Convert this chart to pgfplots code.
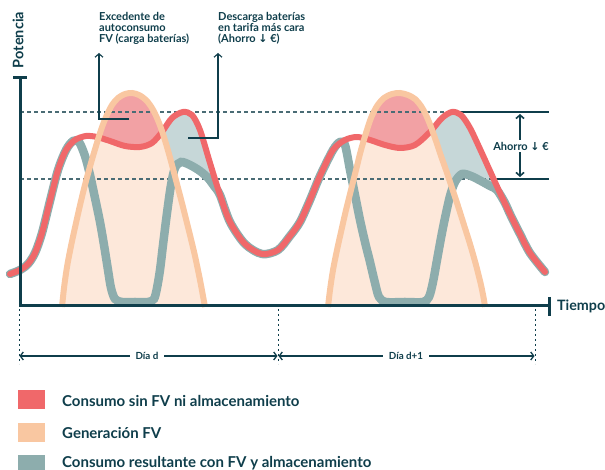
\documentclass[border=0pt]{standalone}
\usepackage{pgfplots}
\pgfplotsset{compat=1.18}
\usepgfplotslibrary{fillbetween}
\usetikzlibrary{arrows.meta}
\usepackage{fontspec}
\setmainfont{Lato}
\newfontfamily\symfont{DejaVu Sans}
\definecolor{redc}{RGB}{240,104,106}
\definecolor{orangec}{RGB}{249,199,161}
\definecolor{grayc}{RGB}{141,173,173}
\definecolor{pinkfill}{RGB}{242,161,164}
\definecolor{peachfill}{RGB}{253,232,218}
\definecolor{bluefill}{RGB}{198,215,216}
\definecolor{dark}{RGB}{15,62,75}
\definecolor{dashc}{RGB}{74,108,117}
\begin{document}
\begin{tikzpicture}
\begin{axis}[hide axis, scale only axis, width=605pt, height=470pt,
  xmin=0, xmax=605, ymin=0, ymax=470, y dir=reverse, clip=false,
  at={(0,0)}, anchor=south west]
% ---- named paths (data) ----
\addplot[draw=none, name path=AX] coordinates {(0,306) (605,306)};
\addplot[draw=none, smooth, name path=R] coordinates {
(10,274) (20,270) (28,264) (35,253) (42,233) (50,201) (58,170) (66,150) (75,140) (86,136) (97,137) (110,141) (125,146) (140,147) (152,143) (162,132) (172,118) (183,112) (192,115) (200,130) (210,163) (220,195) (230,222) (245,244) (262,254) (278,250) (290,236) (300,222) (310,200) (320,176) (333,150) (345,140) (357,137) (370,140) (385,145) (400,148) (415,145) (430,132) (442,118) (452,112) (461,115) (470,128) (480,149) (490,171) (500,193) (510,214) (520,234) (530,253) (545,272)};
\addplot[draw=none, smooth, name path=G] coordinates {
(10,274) (20,270) (28,264) (35,253) (42,233) (50,201) (58,170) (66,150) (73,141) (79,142) (85,156) (90,175) (95,198) (100,222) (104,245) (108,270) (111,288) (115,299) (122,302) (135,302) (148,302) (154,299) (157,288) (160,270) (163,245) (167,213) (171,185) (175,168) (181,162) (190,165) (200,171) (208,178) (214,186) (220,195) (230,222) (245,244) (262,254) (278,250) (290,236) (300,222) (310,200) (320,176) (333,150) (340,142) (345,145) (350,170) (355,195) (360,220) (365,242) (370,262) (375,283) (379,297) (386,302) (405,302) (423,302) (429,297) (433,282) (437,260) (441,238) (445,218) (450,196) (455,182) (462,174) (471,176) (481,181) (490,186) (497,190) (505,203) (510,214) (520,234) (530,253) (545,272)};
\addplot[draw=none, smooth, name path=O1] coordinates {
(62,307) (64,288) (67,267) (71,246) (76,223) (81,201) (86,181) (91,163) (96,146) (101,130) (106,117) (112,105) (118,98) (125,94) (132,93) (139,95) (146,100) (152,108) (157,118) (162,131) (167,147) (172,165) (177,184) (183,207) (189,231) (195,256) (200,280) (203,296) (205,307)};
\addplot[draw=none, smooth, name path=O2] coordinates {
(328,307) (330,290) (333,270) (337,250) (341,232) (346,210) (351,190) (356,170) (361,150) (366,133) (371,118) (377,106) (384,98) (392,94) (400,93) (408,95) (415,99) (421,106) (426,115) (431,127) (436,141) (441,156) (446,170) (452,188) (458,206) (464,225) (470,244) (476,265) (481,285) (484,300) (485,307)};
% ---- fills ----
\addplot[bluefill] fill between[of=R and G, soft clip={domain=156:224}];
\addplot[bluefill] fill between[of=R and G, soft clip={domain=428:500}];
\addplot[peachfill] fill between[of=O1 and AX, soft clip={domain=62:205}];
\addplot[peachfill] fill between[of=O2 and AX, soft clip={domain=328:485}];
\addplot[pinkfill] fill between[of=O1 and R, soft clip={domain=99:162}];
\addplot[pinkfill] fill between[of=O2 and R, soft clip={domain=364:432}];
% ---- reference levels ----
\draw[dashc, line width=1.2pt, dash pattern=on 3.5pt off 3.5pt] (axis cs:20,112) -- (axis cs:456,112);
\draw[dashc, line width=1.2pt, dash pattern=on 3.5pt off 3.5pt] (axis cs:20,179) -- (axis cs:497,179);
\draw[dark, line width=2.2pt] (axis cs:456,112) -- (axis cs:549,112);
\draw[dark, line width=2.2pt] (axis cs:497,179) -- (axis cs:549,179);
% ---- curves ----
\addplot[grayc, line width=8.5pt, smooth, line cap=round] coordinates {
(10,274) (20,270) (28,264) (35,253) (42,233) (50,201) (58,170) (66,150) (73,141) (79,142) (85,156) (90,175) (95,198) (100,222) (104,245) (108,270) (111,288) (115,299) (122,302) (135,302) (148,302) (154,299) (157,288) (160,270) (163,245) (167,213) (171,185) (175,168) (181,162) (190,165) (200,171) (208,178) (214,186) (220,195) (230,222) (245,244) (262,254) (278,250) (290,236) (300,222) (310,200) (320,176) (333,150) (340,142) (345,145) (350,170) (355,195) (360,220) (365,242) (370,262) (375,283) (379,297) (386,302) (405,302) (423,302) (429,297) (433,282) (437,260) (441,238) (445,218) (450,196) (455,182) (462,174) (471,176) (481,181) (490,186) (497,190) (505,203) (510,214) (520,234) (530,253) (545,272)};
\addplot[redc, line width=6pt, smooth, line cap=round] coordinates {
(10,274) (20,270) (28,264) (35,253) (42,233) (50,201) (58,170) (66,150) (75,140) (86,136) (97,137) (110,141) (125,146) (140,147) (152,143) (162,132) (172,118) (183,112) (192,115) (200,130) (210,163) (220,195) (230,222) (245,244) (262,254) (278,250) (290,236) (300,222) (310,200) (320,176) (333,150) (345,140) (357,137) (370,140) (385,145) (400,148) (415,145) (430,132) (442,118) (452,112) (461,115) (470,128) (480,149) (490,171) (500,193) (510,214) (520,234) (530,253) (545,272)};
\addplot[orangec, line width=6pt, smooth] coordinates {
(62,307) (64,288) (67,267) (71,246) (76,223) (81,201) (86,181) (91,163) (96,146) (101,130) (106,117) (112,105) (118,98) (125,94) (132,93) (139,95) (146,100) (152,108) (157,118) (162,131) (167,147) (172,165) (177,184) (183,207) (189,231) (195,256) (200,280) (203,296) (205,307)};
\addplot[orangec, line width=6pt, smooth] coordinates {
(328,307) (330,290) (333,270) (337,250) (341,232) (346,210) (351,190) (356,170) (361,150) (366,133) (371,118) (377,106) (384,98) (392,94) (400,93) (408,95) (415,99) (421,106) (426,115) (431,127) (436,141) (441,156) (446,170) (452,188) (458,206) (464,225) (470,244) (476,265) (481,285) (484,300) (485,307)};
% ---- axes ----
\draw[dark, line width=3pt] (axis cs:20,78) -- (axis cs:20,306) -- (axis cs:549,306);
\draw[dark, line width=3pt] (axis cs:13,78) -- (axis cs:27,78);
\draw[dark, line width=3pt] (axis cs:549,297) -- (axis cs:549,316);
\node[rotate=90, text=dark, font=\bfseries\fontsize{14.5}{14.5}\selectfont, inner sep=0] at (axis cs:18,40) {Potencia};
\node[anchor=west, text=dark, font=\bfseries\fontsize{14.3}{14.3}\selectfont, inner sep=0] at (axis cs:557,306) {Tiempo};
% ---- annotations ----
\draw[dark, line width=1.1pt, -{Straight Barb[length=3.5pt,width=8pt]}] (axis cs:129,119) -- (axis cs:99,119) -- (axis cs:99,53);
\draw[dark, line width=1.1pt, -{Straight Barb[length=3.5pt,width=8pt]}] (axis cs:188,138) -- (axis cs:218,138) -- (axis cs:218,53);
\node[anchor=north west, align=left, text=dark, inner sep=0, font=\bfseries\fontsize{11}{11}\selectfont] at (axis cs:99,12) {Excedente de\\autoconsumo\\FV (carga baterías)};
\node[anchor=north west, align=left, text=dark, inner sep=0, font=\bfseries\fontsize{11}{11}\selectfont] at (axis cs:218,12) {Descarga baterías\\en tarifa más cara\\(Ahorro {\symfont↓} €)};
\draw[dark, line width=1.6pt, {Straight Barb[length=3.5pt,width=8pt]}-{Straight Barb[length=3.5pt,width=8pt]}] (axis cs:520,114) -- (axis cs:520,177);
\node[fill=white, text=dark, inner xsep=1.5pt, inner ysep=2pt, font=\bfseries\fontsize{11}{11}\selectfont] at (axis cs:521,146) {Ahorro {\symfont↓} €};
% ---- days ----
\draw[dark, line width=0.8pt, dash pattern=on 2.5pt off 2.5pt] (axis cs:19,309) -- (axis cs:19,364);
\draw[dark, line width=0.8pt, dash pattern=on 2.5pt off 2.5pt] (axis cs:278,309) -- (axis cs:278,364);
\draw[dark, line width=0.8pt, dash pattern=on 2.5pt off 2.5pt] (axis cs:535,309) -- (axis cs:535,364);
\draw[dark, line width=1.3pt, {Straight Barb[length=3pt,width=8pt]}-{Straight Barb[length=3pt,width=8pt]}] (axis cs:19.5,356) -- (axis cs:277.5,356);
\draw[dark, line width=1.3pt, {Straight Barb[length=3pt,width=8pt]}-{Straight Barb[length=3pt,width=8pt]}] (axis cs:278.5,356) -- (axis cs:534.5,356);
\node[fill=white, text=dark, inner xsep=6pt, inner ysep=1pt, font=\bfseries\fontsize{9.8}{10}\selectfont] at (axis cs:147,356) {Día d};
\node[fill=white, text=dark, inner xsep=6pt, inner ysep=1pt, font=\bfseries\fontsize{9.8}{10}\selectfont] at (axis cs:406,356) {Día d+1};
% ---- legend ----
\fill[redc] (axis cs:18,390) rectangle (axis cs:45,409);
\fill[orangec] (axis cs:18,423) rectangle (axis cs:45,442);
\fill[grayc] (axis cs:18,455) rectangle (axis cs:45,474);
\node[anchor=west, text=dark, inner sep=0, font=\bfseries\fontsize{15}{15}\selectfont] at (axis cs:62,401) {Consumo sin FV ni almacenamiento};
\node[anchor=west, text=dark, inner sep=0, font=\bfseries\fontsize{15}{15}\selectfont] at (axis cs:62,433) {Generación FV};
\node[anchor=west, text=dark, inner sep=0, font=\bfseries\fontsize{15}{15}\selectfont] at (axis cs:62,463) {Consumo resultante con FV y almacenamiento};
\end{axis}
\pgfresetboundingbox
\path (0,0) rectangle (605pt,470pt);
\end{tikzpicture}
\end{document}
